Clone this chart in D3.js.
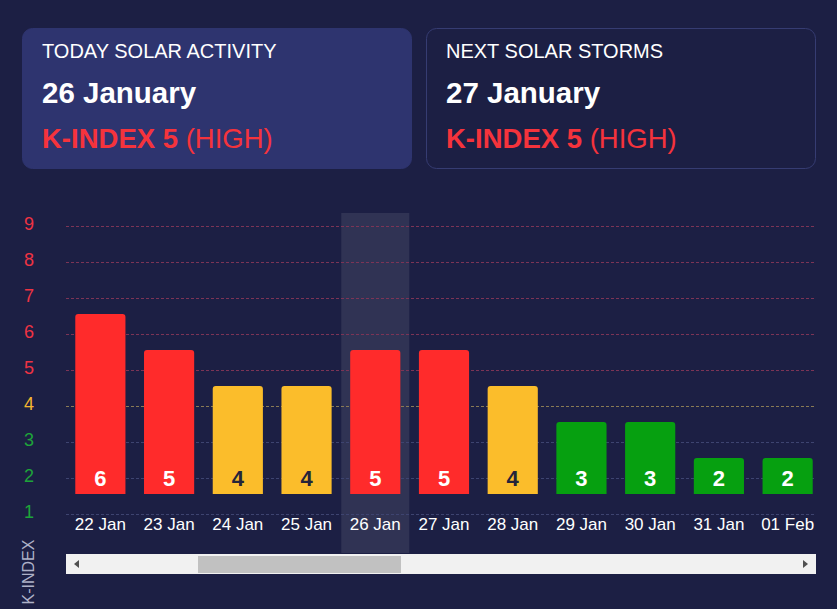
<!DOCTYPE html>
<html>
<head>
<meta charset="utf-8">
<script src="https://cdn.jsdelivr.net/npm/d3@7"></script>
<style>
  html, body { margin: 0; padding: 0; background: #1c1f44; }
  svg { display: block; font-family: "Liberation Sans", Arial, sans-serif; }
</style>
</head>
<body>
<svg id="chart"></svg>
<script>
// data
var days = ["22 Jan", "23 Jan", "24 Jan", "25 Jan", "26 Jan", "27 Jan", "28 Jan", "29 Jan", "30 Jan", "31 Jan", "01 Feb"];
var kIndex = [6, 5, 4, 4, 5, 5, 4, 3, 3, 2, 2];
var yTicks = [1, 2, 3, 4, 5, 6, 7, 8, 9];
var today = "26 Jan";

var cards = [
  {title: "TODAY SOLAR ACTIVITY", date: "26 January", k: 5, level: "(HIGH)", filled: true},
  {title: "NEXT SOLAR STORMS", date: "27 January", k: 5, level: "(HIGH)", filled: false}
];

var width = 837, height = 609;

function levelColor(v) {
  if (v >= 5) return "#ff2b2b";
  if (v == 4) return "#fbbd2b";
  return "#06a010";
}
function tickColor(v) {
  if (v >= 5) return "#ee3343";
  if (v == 4) return "#f4b52f";
  return "#1ea43a";
}
function gridColor(v) {
  if (v >= 5) return "#7c3456";
  if (v == 4) return "#8a7a55";
  return "#3e4470";
}

var svg = d3.select("#chart")
    .attr("width", width)
    .attr("height", height);

svg.append("rect")
    .attr("width", width)
    .attr("height", height)
    .attr("fill", "#1c1f44");

// info cards on top
var cardW = 390, cardGap = 14;

var card = svg.selectAll("g.card")
    .data(cards)
  .enter().append("g")
    .attr("class", "card")
    .attr("transform", function(d, i) { return "translate(" + (22 + i * (cardW + cardGap)) + ",28)"; });

card.append("rect")
    .attr("x", 0.5)
    .attr("y", 0.5)
    .attr("width", cardW - 1)
    .attr("height", 140)
    .attr("rx", 10)
    .attr("fill", function(d) { return d.filled ? "#2e346f" : "#1c1f44"; })
    .attr("stroke", function(d) { return d.filled ? "#2e346f" : "#363c72"; });

card.append("text")
    .attr("x", 20)
    .attr("y", 30)
    .attr("fill", "#ffffff")
    .style("font-size", "20px")
    .text(function(d) { return d.title; });

card.append("text")
    .attr("x", 20)
    .attr("y", 75)
    .attr("fill", "#ffffff")
    .style("font-size", "29.5px")
    .style("font-weight", "bold")
    .text(function(d) { return d.date; });

var kt = card.append("text")
    .attr("x", 20)
    .attr("y", 120)
    .attr("fill", "#f5333c")
    .style("font-size", "27.5px");
kt.append("tspan")
    .style("font-weight", "bold")
    .text(function(d) { return "K-INDEX " + d.k; });
kt.append("tspan")
    .text(function(d) { return " " + d.level; });

// chart area
var plotLeft = 66, plotRight = 816;

var x = d3.scaleBand()
    .domain(days)
    .range([plotLeft, 822])
    .paddingInner(0.27)
    .paddingOuter(0.135);

// grid / tick scale
var y = d3.scaleLinear().domain([1, 9]).range([514, 226]);
// bars sit a little above the grid, like in the source widget
var yBar = d3.scaleLinear().domain([1, 9]).range([494, 206]);

// highlight for today
svg.append("rect")
    .attr("x", x(today) + x.bandwidth() / 2 - 34)
    .attr("y", 213)
    .attr("width", 68)
    .attr("height", 340)
    .attr("fill", "#ffffff")
    .attr("fill-opacity", 0.09);

// grid lines
svg.append("g")
    .selectAll("line")
    .data(yTicks)
  .enter().append("line")
    .attr("x1", plotLeft)
    .attr("x2", plotRight)
    .attr("y1", function(d) { return Math.round(y(d)) + 0.5; })
    .attr("y2", function(d) { return Math.round(y(d)) + 0.5; })
    .attr("stroke", gridColor)
    .attr("stroke-dasharray", "3,2");

// y tick labels
svg.append("g")
    .selectAll("text")
    .data(yTicks)
  .enter().append("text")
    .attr("x", 29)
    .attr("y", function(d) { return y(d) - 2; })
    .attr("dy", "0.35em")
    .attr("text-anchor", "middle")
    .attr("fill", tickColor)
    .style("font-size", "18px")
    .text(function(d) { return d; });

// y axis title
svg.append("text")
    .attr("transform", "translate(34,572) rotate(-90)")
    .attr("text-anchor", "middle")
    .attr("fill", "#aeb1c8")
    .style("font-size", "16px")
    .text("K-INDEX");

// bars
var bars = svg.append("g")
    .selectAll("g")
    .data(days)
  .enter().append("g");

bars.append("path")
    .attr("fill", function(d, i) { return levelColor(kIndex[i]); })
    .attr("d", function(d, i) {
      var x0 = x(d), w = x.bandwidth(), y0 = yBar(kIndex[i]), y1 = yBar(1), r = 3;
      return "M" + x0 + "," + y1 +
             "V" + (y0 + r) +
             "Q" + x0 + "," + y0 + " " + (x0 + r) + "," + y0 +
             "H" + (x0 + w - r) +
             "Q" + (x0 + w) + "," + y0 + " " + (x0 + w) + "," + (y0 + r) +
             "V" + y1 + "Z";
    });

bars.append("text")
    .attr("x", function(d) { return x(d) + x.bandwidth() / 2; })
    .attr("y", yBar(1) - 8)
    .attr("text-anchor", "middle")
    .attr("fill", function(d, i) { return kIndex[i] == 4 ? "#24243a" : "#ffffff"; })
    .style("font-size", "22px")
    .style("font-weight", "bold")
    .text(function(d, i) { return kIndex[i]; });

// x axis labels
svg.append("g")
    .selectAll("text")
    .data(days)
  .enter().append("text")
    .attr("x", function(d) { return x(d) + x.bandwidth() / 2; })
    .attr("y", 524)
    .attr("dy", "0.35em")
    .attr("text-anchor", "middle")
    .attr("fill", "#ffffff")
    .style("font-size", "17px")
    .text(function(d) { return d; });

// scrollbar
var sb = svg.append("g");
sb.append("rect")
    .attr("x", plotLeft)
    .attr("y", 554)
    .attr("width", plotRight - plotLeft)
    .attr("height", 20)
    .attr("fill", "#f1f1f1");
sb.append("rect")
    .attr("x", 198)
    .attr("y", 556)
    .attr("width", 203)
    .attr("height", 17)
    .attr("fill", "#c1c1c1");
sb.append("path")
    .attr("d", "M74,564 L79,560 L79,568 Z")
    .attr("fill", "#505050");
sb.append("path")
    .attr("d", "M808,564 L803,560 L803,568 Z")
    .attr("fill", "#505050");
</script>
</body>
</html>
